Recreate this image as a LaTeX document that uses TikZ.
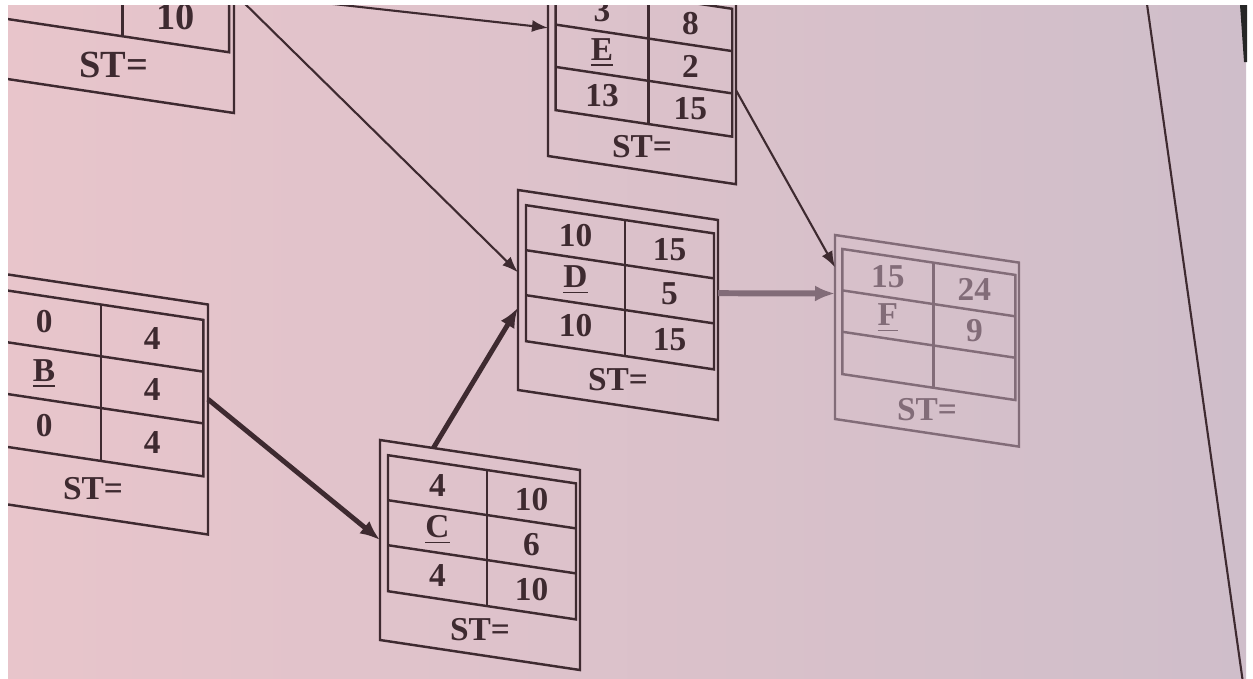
\documentclass[tikz,border=0pt]{standalone}
\usepackage{fontspec}
\setmainfont{Liberation Serif}
\usetikzlibrary{arrows.meta}
\definecolor{paperL}{RGB}{232, 197, 203}
\definecolor{paperR}{RGB}{207, 190, 202}
\definecolor{ink}{RGB}{62, 42, 48}
\definecolor{faint}{RGB}{130, 108, 120}

\tikzset{
  frame/.style={draw, inner sep=0pt, outer sep=0pt, minimum width=2cm, minimum height=2cm},
  cell/.style={font=\fontsize{9.5}{11}\selectfont\bfseries, inner sep=1pt},
  link/.style={-{Latex[length=1.6mm, width=1.2mm]}, line width=0.6pt},
  heavy/.style={-{Latex[length=2mm, width=1.6mm]}, line width=1.4pt}
}

% activity box: options, name, corner, ES, EF, label, duration, LS, LF
\newcommand{\actbox}[9]{%
  \begin{scope}[shift={#3}, yslant=-0.15, #1]
    \node[frame, transform shape, anchor=north west] (#2) at (0, 0) {};
    \draw (0.08, -0.14) rectangle (1.96, -1.5);
    \foreach \yy in {-0.59, -1.04} {
      \draw (0.08, \yy) -- (1.96, \yy);
    }
    \draw (1.07, -0.14) -- (1.07, -1.5);
    \node[cell] at (0.575, -0.365) {#4};
    \node[cell] at (1.515, -0.365) {#5};
    \node[cell] at (0.575, -0.815) {#6};
    \node[cell] at (1.515, -0.815) {#7};
    \node[cell] at (0.575, -1.27) {#8};
    \node[cell] at (1.515, -1.27) {#9};
    \node[cell] at (1.0, -1.75) {ST=};
  \end{scope}}

\begin{document}
\begin{tikzpicture}[color=ink, line width=0.7pt]
  \useasboundingbox (0, 0) rectangle (12.53, -6.78);
  \fill[white] (0, 0) rectangle (12.53, -6.78);
  \shade[left color=paperL, right color=paperR] (0.08, -0.05) rectangle (12.46, -6.78);
  \fill[black!85] (12.40, -0.05) -- (12.47, -0.05) -- (12.47, -0.62) -- (12.44, -0.62) -- cycle;

  \begin{scope}
    \clip (0.08, -0.05) rectangle (12.46, -6.78);
    % page edge
    \draw[line width=0.6pt] (11.45, 0.1) -- (12.44, -6.9);

    % Boxes
    \actbox{scale=1.2, cell/.append style={scale=1.15}}{A}{(-0.06, 1.63)}{}{}{}{}{}{10}
    \actbox{scale=1.15}{B}{(-0.22, -2.7)}{0}{4}{\underline{B}}{4}{0}{4}
    \actbox{}{C}{(3.8, -4.4)}{4}{10}{\underline{C}}{6}{4}{10}
    \actbox{}{D}{(5.18, -1.9)}{10}{15}{\underline{D}}{5}{10}{15}
    \actbox{scale=0.94}{E}{(5.48, 0.32)}{3}{8}{\underline{E}}{2}{13}{15}
    \actbox{scale=0.92, color=faint}{F}{(8.35, -2.35)}{15}{24}{\underline{F}}{9}{}{}

    % Links
    \draw[link] (A.east) -- (D.170);
    \draw[link] (A.east) -- (E.160);
    \draw[heavy] (B.10) -- (C.west);
    \draw[heavy] (C.115) -- (D.190);
    \draw[heavy, line width=1.7pt, color=faint] (D.15) -- (F.160);
    \draw[link] (E.east) -- (F.147);
  \end{scope}
\end{tikzpicture}
\end{document}
